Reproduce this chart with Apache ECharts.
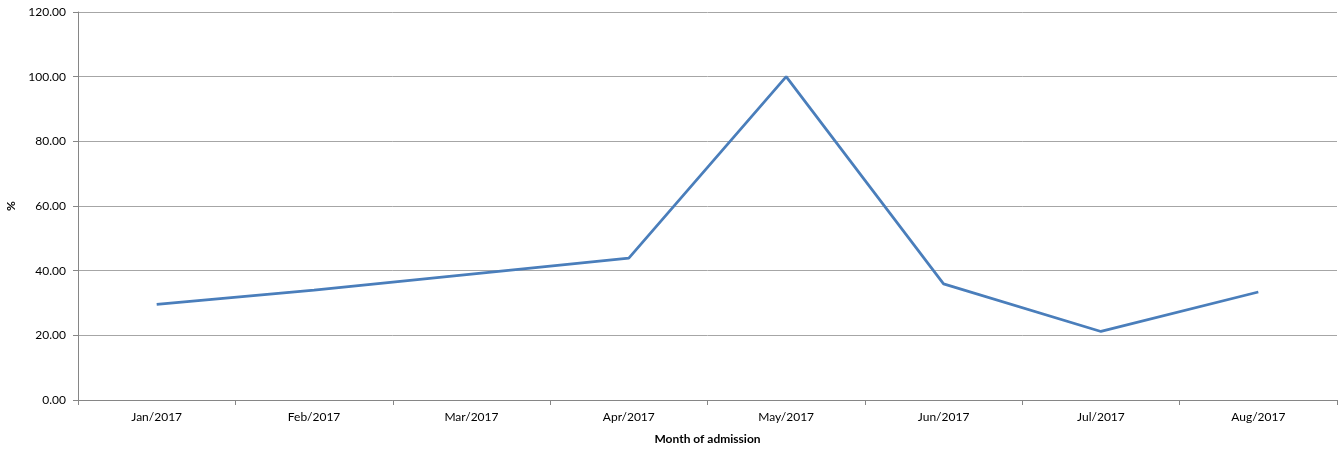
<!DOCTYPE html>
<html><head><meta charset="utf-8">
<script src="https://cdn.jsdelivr.net/npm/echarts@6/dist/echarts.min.js"></script>
<style>html,body{margin:0;padding:0;background:#fff}#c{width:1340px;height:450px}</style>
</head><body><div id="c"></div>
<script>
const categories = ['Jan/2017','Feb/2017','Mar/2017','Apr/2017','May/2017','Jun/2017','Jul/2017','Aug/2017'];
const values = [29.6, 34.0, 38.9, 43.9, 100.0, 35.9, 21.2, 33.4];
const yTicks = [0, 20, 40, 60, 80, 100, 120];
const xTitle = 'Month of admission';
const yTitle = '%';

const font = 'Lato, "Open Sans", sans-serif';
const chart = echarts.init(document.getElementById('c'));
chart.setOption({
  animation: false,
  grid: { left: 78, right: 3, top: 12, bottom: 50, containLabel: false, outerBoundsMode: 'none' },
  xAxis: {
    type: 'category', data: categories, boundaryGap: true,
    name: xTitle, nameLocation: 'middle', nameGap: 33,
    nameTextStyle: { fontFamily: font, fontWeight: 'bold', fontSize: 12, color: '#000' },
    axisLine: { lineStyle: { color: '#868686', width: 1 } },
    axisTick: { show: true, length: 5, alignWithLabel: false, lineStyle: { color: '#868686' } },
    axisLabel: { fontFamily: font, fontSize: 12, color: '#000', margin: 11 },
    splitLine: { show: false }
  },
  yAxis: {
    type: 'value', min: yTicks[0], max: yTicks[yTicks.length-1], interval: 20,
    name: yTitle, nameLocation: 'middle', nameGap: 58, nameRotate: 90,
    nameTextStyle: { fontFamily: font, fontWeight: 'bold', fontSize: 12, color: '#000' },
    axisLine: { show: true, lineStyle: { color: '#868686', width: 1 } },
    axisTick: { show: true, length: 5, inside: false, lineStyle: { color: '#868686' } },
    axisLabel: { fontFamily: font, fontSize: 12, color: '#000', margin: 12,
      formatter: v => v.toFixed(2) },
    splitLine: { show: true, lineStyle: { color: '#a6a6a6', width: 1 } }
  },
  series: [{
    type: 'line', data: values, symbol: 'none',
    lineStyle: { color: '#4a7ebb', width: 2.75 }
  }]
});
</script></body></html>
